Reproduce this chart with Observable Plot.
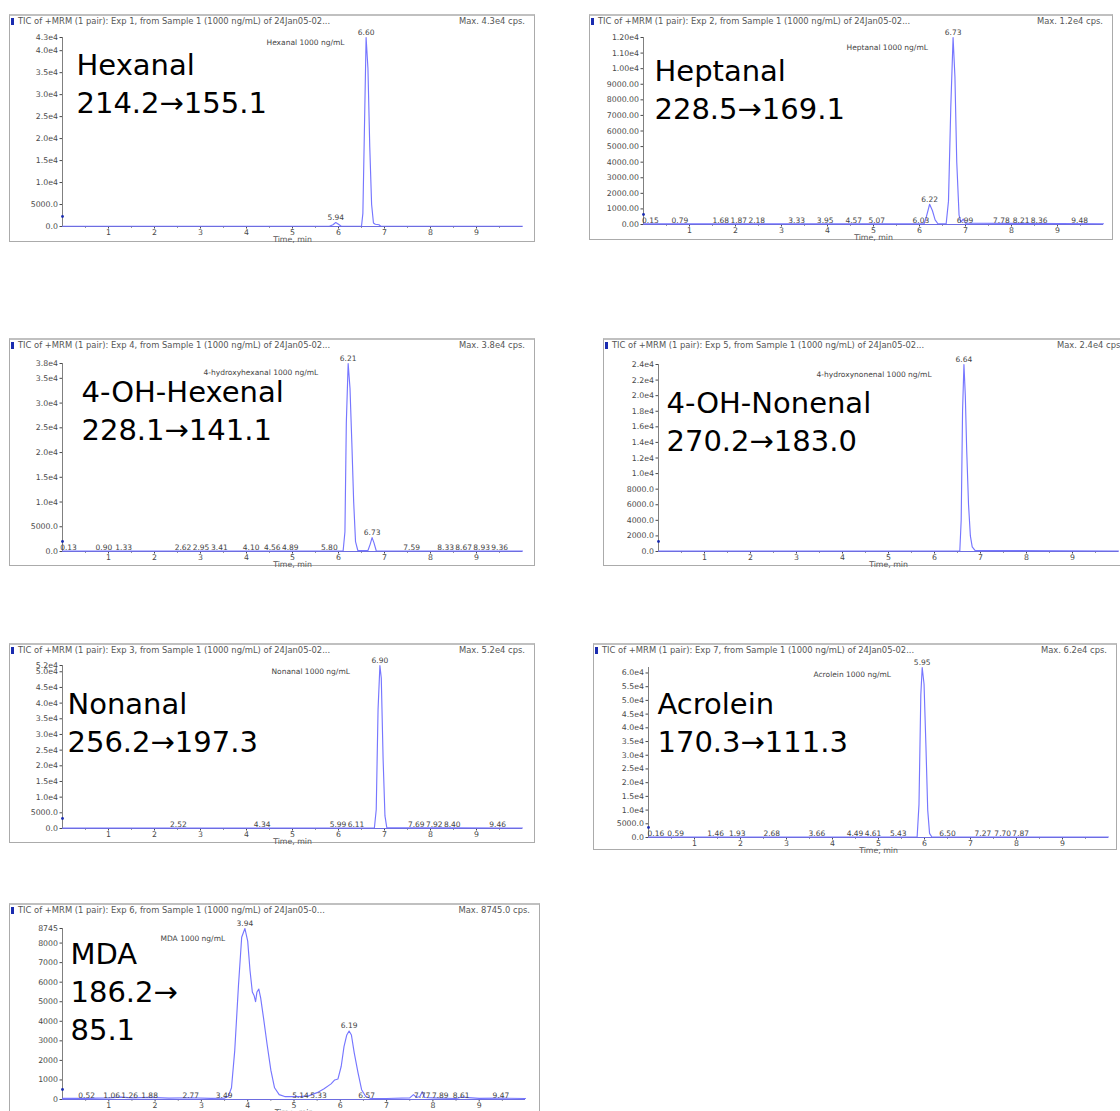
<!DOCTYPE html>
<html>
<head>
<meta charset="utf-8">
<script src="https://cdn.jsdelivr.net/npm/d3@7"></script>
<script src="https://cdn.jsdelivr.net/npm/@observablehq/plot@0.6"></script>
<style>
html, body { margin: 0; padding: 0; background: #fff; overflow: hidden; width: 1120px; height: 1111px; }
#root { position: relative; width: 1120px; height: 1111px; overflow: hidden; font-family: "DejaVu Sans", sans-serif; }
.panel { position: absolute; box-sizing: border-box; border: 1px solid #ababab; border-top: 2px solid #c0c0c0; background: #fff; }
.panel svg { position: absolute; left: -1px; top: -2px; overflow: visible; max-width: none !important; }
.hdr { position: absolute; left: 1px; right: 9px; top: 0px; height: 10px; display: flex; justify-content: space-between;
       font-size: 8.4px; line-height: 10px; color: #555; white-space: nowrap; z-index: 2; }
.hdr .sq { display: inline-block; width: 3px; height: 7px; background: #1a2cb0; margin-right: 4px; vertical-align: -1px; }
</style>
</head>
<body>
<div id="root"></div>
<script>
// ---------------- data ----------------
const compounds = ["Hexanal", "Heptanal", "4-OH-Hexenal", "4-OH-Nonenal", "Nonanal", "Acrolein", "MDA"];
const transitions = ["214.2→155.1", "228.5→169.1", "228.1→141.1", "270.2→183.0", "256.2→197.3", "170.3→111.3", "186.2→85.1"];
const expNumbers = [1, 2, 4, 5, 3, 7, 6];
const fileSuffix = ["24Jan05-02...", "24Jan05-02...", "24Jan05-02...", "24Jan05-02...", "24Jan05-02...", "24Jan05-02...", "24Jan05-0..."];
const maxIntensity = [43000, 12000, 38000, 24000, 52000, 62000, 8745];
const maxLabels = ["Max. 4.3e4 cps.", "Max. 1.2e4 cps.", "Max. 3.8e4 cps.", "Max. 2.4e4 cps.", "Max. 5.2e4 cps.", "Max. 6.2e4 cps.", "Max. 8745.0 cps."];
const sampleLabels = ["Hexanal 1000 ng/mL", "Heptanal 1000 ng/mL", "4-hydroxyhexanal 1000 ng/mL", "4-hydroxynonenal 1000 ng/mL",
                      "Nonanal 1000 ng/mL", "Acrolein 1000 ng/mL", "MDA 1000 ng/mL"];
const xTicks = [1, 2, 3, 4, 5, 6, 7, 8, 9];
const xMinorTicks = [0.5, 1.5, 2.5, 3.5, 4.5, 5.5, 6.5, 7.5, 8.5, 9.5];

// Hexanal
const hexanalTime = [0, 5.80, 5.88, 5.94, 6.00, 6.06, 6.50, 6.53, 6.56, 6.60, 6.64, 6.68, 6.72, 6.76, 6.80, 6.88, 6.92, 10];
const hexanalCps  = [60, 60, 400, 900, 500, 60, 60, 3000, 20000, 43000, 36000, 18000, 5000, 800, 500, 400, 60, 60];
const hexanalTicks = [0, 5000, 10000, 15000, 20000, 25000, 30000, 35000, 40000, 43000];
const hexanalTickLabels = ["0.0", "5000.0", "1.0e4", "1.5e4", "2.0e4", "2.5e4", "3.0e4", "3.5e4", "4.0e4", "4.3e4"];
const hexanalPeakTime = [5.94, 6.60];
const hexanalPeakCps = [900, 43000];
const hexanalMinorPeaks = [];

// Heptanal
const heptanalTime = [0, 6.10, 6.15, 6.22, 6.28, 6.34, 6.40, 6.58, 6.63, 6.68, 6.73, 6.77, 6.81, 6.86, 6.90, 6.95, 7.00, 10];
const heptanalCps  = [50, 50, 500, 1300, 900, 300, 50, 50, 1500, 7500, 12000, 9500, 4000, 600, 150, 350, 80, 50];
const heptanalTicks = [0, 1000, 2000, 3000, 4000, 5000, 6000, 7000, 8000, 9000, 10000, 11000, 12000];
const heptanalTickLabels = ["0.00", "1000.00", "2000.00", "3000.00", "4000.00", "5000.00", "6000.00", "7000.00", "8000.00", "9000.00", "1.00e4", "1.10e4", "1.20e4"];
const heptanalPeakTime = [6.22, 6.73];
const heptanalPeakCps = [1300, 12000];
const heptanalMinorPeaks = [0.15, 0.79, 1.68, 1.87, 2.18, 3.33, 3.95, 4.57, 5.07, 6.03, 6.99, 7.78, 8.21, 8.36, 9.48];

// 4-OH-Hexenal
const hhTime = [0, 6.10, 6.14, 6.17, 6.21, 6.25, 6.29, 6.33, 6.37, 6.42, 6.64, 6.69, 6.73, 6.77, 6.82, 10];
const hhCps  = [80, 80, 4000, 26000, 38000, 33000, 22000, 10000, 2000, 200, 200, 1500, 2800, 1800, 150, 80];
const hhTicks = [0, 5000, 10000, 15000, 20000, 25000, 30000, 35000, 38000];
const hhTickLabels = ["0.0", "5000.0", "1.0e4", "1.5e4", "2.0e4", "2.5e4", "3.0e4", "3.5e4", "3.8e4"];
const hhPeakTime = [6.21, 6.73];
const hhPeakCps = [38000, 2800];
const hhMinorPeaks = [0.13, 0.90, 1.33, 2.62, 2.95, 3.41, 4.10, 4.56, 4.89, 5.80, 7.59, 8.33, 8.67, 8.93, 9.36];

// 4-OH-Nonenal
const hnTime = [0, 6.55, 6.58, 6.61, 6.64, 6.67, 6.70, 6.74, 6.78, 6.82, 6.88, 7.60, 10];
const hnCps  = [40, 40, 4000, 18000, 24000, 20000, 13000, 6000, 2000, 600, 150, 120, 40];
const hnTicks = [0, 2000, 4000, 6000, 8000, 10000, 12000, 14000, 16000, 18000, 20000, 22000, 24000];
const hnTickLabels = ["0.0", "2000.0", "4000.0", "6000.0", "8000.0", "1.0e4", "1.2e4", "1.4e4", "1.6e4", "1.8e4", "2.0e4", "2.2e4", "2.4e4"];
const hnPeakTime = [6.64];
const hnPeakCps = [24000];
const hnMinorPeaks = [];

// Nonanal
const nonanalTime = [0, 6.78, 6.82, 6.86, 6.90, 6.93, 6.97, 7.01, 7.05, 10];
const nonanalCps  = [150, 150, 6000, 38000, 52000, 48000, 22000, 4000, 300, 150];
const nonanalTicks = [0, 5000, 10000, 15000, 20000, 25000, 30000, 35000, 40000, 45000, 50000, 52000];
const nonanalTickLabels = ["0.0", "5000.0", "1.0e4", "1.5e4", "2.0e4", "2.5e4", "3.0e4", "3.5e4", "4.0e4", "4.5e4", "5.0e4", "5.2e4"];
const nonanalPeakTime = [6.90];
const nonanalPeakCps = [52000];
const nonanalMinorPeaks = [2.52, 4.34, 5.99, 6.11, 7.69, 7.92, 8.40, 9.46];

// Acrolein
const acroleinTime = [0, 5.84, 5.88, 5.92, 5.95, 5.99, 6.03, 6.07, 6.11, 6.16, 10];
const acroleinCps  = [200, 200, 12000, 52000, 62000, 56000, 34000, 10000, 1500, 200, 200];
const acroleinTicks = [0, 5000, 10000, 15000, 20000, 25000, 30000, 35000, 40000, 45000, 50000, 55000, 60000];
const acroleinTickLabels = ["0.0", "5000.0", "1.0e4", "1.5e4", "2.0e4", "2.5e4", "3.0e4", "3.5e4", "4.0e4", "4.5e4", "5.0e4", "5.5e4", "6.0e4"];
const acroleinPeakTime = [5.95];
const acroleinPeakCps = [62000];
const acroleinMinorPeaks = [0.16, 0.59, 1.46, 1.93, 2.68, 3.66, 4.49, 4.61, 5.43, 6.50, 7.27, 7.70, 7.87];

// MDA
const mdaTime = [0, 0.5, 1.0, 1.26, 1.5, 1.88, 2.3, 2.77, 3.2, 3.49, 3.58, 3.65, 3.72, 3.80, 3.87, 3.94, 4.00, 4.05, 4.10, 4.14, 4.17, 4.20,
                 4.24, 4.28, 4.34, 4.42, 4.50, 4.58, 4.68, 4.80, 5.14, 5.33, 5.50, 5.65, 5.80, 5.88, 5.95, 6.02, 6.08, 6.14, 6.19,
                 6.24, 6.30, 6.38, 6.46, 6.55, 6.65, 7.0, 7.5, 7.58, 7.65, 7.72, 7.77, 7.82, 8.0, 8.5, 8.61, 9.0, 9.47, 10];
const mdaCps  = [60, 60, 80, 120, 80, 110, 70, 90, 60, 70, 150, 600, 2500, 5800, 8300, 8745, 8100, 6600, 5500, 5300, 5000, 5500,
                 5650, 5200, 4200, 2800, 1500, 600, 250, 150, 150, 200, 350, 550, 800, 1000, 1050, 1700, 2700, 3300, 3500,
                 3300, 2400, 1400, 500, 150, 60, 50, 80, 250, 100, 150, 400, 100, 80, 50, 120, 60, 70, 50];
const mdaTicks = [0, 1000, 2000, 3000, 4000, 5000, 6000, 7000, 8000, 8745];
const mdaTickLabels = ["0", "1000", "2000", "3000", "4000", "5000", "6000", "7000", "8000", "8745"];
const mdaPeakTime = [3.94, 6.19];
const mdaPeakCps = [8745, 3500];
const mdaMinorPeaks = [0.52, 1.06, 1.26, 1.88, 2.77, 3.49, 5.14, 5.33, 6.57, 7.77, 7.89, 8.61, 9.47];

// ---------------- layout (pixels) ----------------
const layout = [
  {left: 9,   top: 14,  width: 526, height: 228, t0: 62,  xEnd: 522,  yTop: 37,  y0: 226,  big: [14, 11], sample: [204, 5]},
  {left: 589, top: 14,  width: 524, height: 226, t0: 643, xEnd: 1103, yTop: 37,  y0: 224,  big: [11, 17], sample: [203, 10]},
  {left: 9,   top: 338, width: 526, height: 228, t0: 62,  xEnd: 522,  yTop: 363, y0: 551,  big: [19, 12], sample: [141, 9]},
  {left: 603, top: 338, width: 530, height: 228, t0: 658, xEnd: 1118, yTop: 364, y0: 551,  big: [8, 22],  sample: [158, 10]},
  {left: 9,   top: 643, width: 526, height: 200, t0: 62,  xEnd: 522,  yTop: 665, y0: 828,  big: [5, 22],  sample: [209, 6]},
  {left: 593, top: 643, width: 524, height: 207, t0: 648, xEnd: 1108, yTop: 667, y0: 837,  big: [9, 20],  sample: [165, 7]},
  {left: 9,   top: 903, width: 531, height: 217, t0: 62,  xEnd: 525,  yTop: 928, y0: 1099, big: [8, 9],   sample: [98, 10], wrap: true}
];

const series = [
  [hexanalTime, hexanalCps, hexanalTicks, hexanalTickLabels, hexanalPeakTime, hexanalPeakCps, hexanalMinorPeaks],
  [heptanalTime, heptanalCps, heptanalTicks, heptanalTickLabels, heptanalPeakTime, heptanalPeakCps, heptanalMinorPeaks],
  [hhTime, hhCps, hhTicks, hhTickLabels, hhPeakTime, hhPeakCps, hhMinorPeaks],
  [hnTime, hnCps, hnTicks, hnTickLabels, hnPeakTime, hnPeakCps, hnMinorPeaks],
  [nonanalTime, nonanalCps, nonanalTicks, nonanalTickLabels, nonanalPeakTime, nonanalPeakCps, nonanalMinorPeaks],
  [acroleinTime, acroleinCps, acroleinTicks, acroleinTickLabels, acroleinPeakTime, acroleinPeakCps, acroleinMinorPeaks],
  [mdaTime, mdaCps, mdaTicks, mdaTickLabels, mdaPeakTime, mdaPeakCps, mdaMinorPeaks]
];

const root = document.getElementById("root");
const FONT = "DejaVu Sans, sans-serif";

series.forEach(([time, cps, yTicks, yLabels, peakTime, peakCps, minorPeaks], i) => {
  const L = layout[i];
  const mL = L.t0 - L.left, mR = L.left + L.width - L.xEnd;
  const mT = L.yTop - L.top, mB = L.top + L.height - L.y0;
  const plotW = L.xEnd - L.t0;
  const trace = time.map((t, k) => ({t, v: cps[k]}));
  const peaks = peakTime.map((t, k) => ({t, v: peakCps[k], s: t.toFixed(2)}));
  // keep neighbouring baseline labels from overprinting
  let prev = -Infinity;
  const base = minorPeaks.slice().sort((a, b) => a - b).map(t => {
    let px = Math.max(t / 10 * plotW, prev + 18);
    prev = px;
    return {t: px / plotW * 10, s: t.toFixed(2)};
  });
  const tickText = new Map(yTicks.map((d, k) => [d, yLabels[k]]));
  const bigText = compounds[i] + "\n" + (L.wrap ? transitions[i].replace("→", "→\n") : transitions[i]);

  const svg = Plot.plot({
    width: L.width, height: L.height,
    marginLeft: mL, marginRight: mR, marginTop: mT, marginBottom: mB,
    x: {domain: [0, 10]},
    y: {domain: [0, maxIntensity[i]]},
    style: {fontFamily: FONT, background: "transparent", overflow: "visible"},
    marks: [
      Plot.axisY({ticks: yTicks, tickFormat: d => tickText.get(d), tickSize: 2.5, tickPadding: 2, fontSize: 7.8, color: "#4a4a4a", label: null}),
      Plot.axisX({ticks: xMinorTicks, tickFormat: () => "", tickSize: 2, color: "#999", label: null}),
      Plot.axisX({ticks: xTicks, tickFormat: d => String(d), tickSize: 2.5, tickPadding: 0, fontSize: 7.8, color: "#4a4a4a", label: null}),
      Plot.ruleX([0], {stroke: "#808080"}),
      Plot.line(trace, {x: "t", y: "v", stroke: "#7676ff", strokeWidth: 1.15}),
      Plot.ruleY([0], {stroke: "#6d6de0", strokeWidth: 1.1}),
      Plot.text(peaks, {x: "t", y: "v", text: "s", dy: -5, fontSize: 7.5, fill: "#444"}),
      Plot.text(base, {x: "t", y: () => 0, text: "s", dy: -3.5, fontSize: 7.5, fill: "#444"}),
      Plot.text([sampleLabels[i]], {frameAnchor: "top-left", text: d => d, lineAnchor: "middle", dx: L.sample[0], dy: L.sample[1], fontSize: 7.5, fill: "#444"}),
      Plot.text([bigText], {frameAnchor: "top-left", text: d => d, lineAnchor: "top", lineHeight: 1.31, dx: L.big[0], dy: L.big[1], fontSize: 29, fill: "#000"}),
      Plot.text(["Time, min"], {frameAnchor: "bottom", text: d => d, lineAnchor: "middle", dy: 12.5, fontSize: 7.8, fill: "#555"}),
      Plot.dot([0], {frameAnchor: "bottom-left", dy: -10, r: 1.4, fill: "#1a2cb0", stroke: "none"})
    ]
  });

  const div = document.createElement("div");
  div.className = "panel";
  div.style.left = L.left + "px";
  div.style.top = L.top + "px";
  div.style.width = L.width + "px";
  div.style.height = L.height + "px";
  const hdr = document.createElement("div");
  hdr.className = "hdr";
  const l = document.createElement("span");
  l.innerHTML = '<span class="sq"></span>';
  l.appendChild(document.createTextNode(`TIC of +MRM (1 pair): Exp ${expNumbers[i]}, from Sample 1 (1000 ng/mL) of ${fileSuffix[i]}`));
  const r = document.createElement("span");
  r.textContent = maxLabels[i];
  hdr.appendChild(l); hdr.appendChild(r);
  div.appendChild(svg);
  div.appendChild(hdr);
  root.appendChild(div);
});
</script>
</body>
</html>
